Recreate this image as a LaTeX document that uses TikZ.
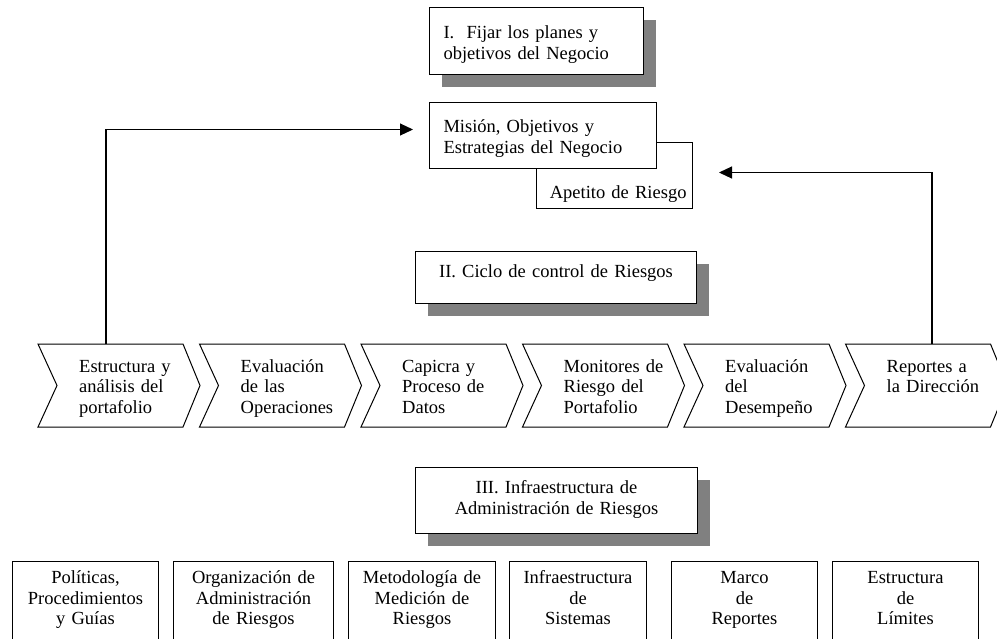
\documentclass[tikz,border=0pt]{standalone}
\usepackage{fontspec}
\setmainfont{Liberation Serif}
\usetikzlibrary{arrows.meta,calc,shadows}

\begin{document}
\begin{tikzpicture}[x=1pt,y=-1pt,
  every node/.style={font=\fontsize{18.5}{20.5}\selectfont, inner sep=0pt, anchor=north west},
  boxframe/.style={draw=black, line width=1pt, fill=white},
  shadebox/.style={boxframe, drop shadow={shadow xshift=12pt, shadow yshift=-12pt, fill=black!50, opacity=1}},
  chevtext/.style={text width=110pt, align=left, text height=28pt, text depth=55pt},
  pillar/.style={boxframe, align=center, text height=22pt, text depth=80pt},
  link/.style={line width=1.1pt, -{Triangle[length=13pt,width=12pt]}},
  chevline/.style={line width=1pt, line join=miter}
]
\useasboundingbox (0,0) rectangle (997,638);
\clip (0,0) rectangle (997,638);

% I. business plans
\node[shadebox, inner xsep=14pt, text width=186pt, align=left,
      text height=31pt, text depth=36pt] (plan) at (429,7)
  {I.\ \ Fijar los planes y\\objetivos del Negocio};

\node[boxframe, inner xsep=6pt, text width=144pt, align=right,
      text height=56pt, text depth=10pt] (appetite) at (536,142)
  {Apetito de Riesgo};
\node[boxframe, inner xsep=14pt, text width=199pt, align=left,
      text height=30pt, text depth=36pt] (mission) at (429,102)
  {Misión, Objetivos y\\Estrategias del Negocio};

% II. control cycle
\node[shadebox, text width=281pt, align=center,
      text height=26pt, text depth=26pt] (cycle) at (415,251)
  {II. Ciclo de control de Riesgos};

\node[chevtext] (c1) at (79,344)    {Estructura y\\análisis del\\portafolio};
\node[chevtext] (c2) at (240.5,344) {Evaluación\\de las\\Operaciones};
\node[chevtext] (c3) at (402,344)   {Capicra y\\Proceso de\\Datos};
\node[chevtext] (c4) at (563.5,344) {Monitores de\\Riesgo del\\Portafolio};
\node[chevtext] (c5) at (725,344)   {Evaluación\\del\\Desempeño};
\node[chevtext] (c6) at (886.5,344) {Reportes a\\la Dirección};

\foreach \c in {c1,c2,c3,c4,c5,c6}
  \draw[chevline] ($(\c.north west)+(-41,0)$) -- ++(145,0) -- ++(17,41.5)
    -- ++(-17,41.5) -- ++(-145,0) -- ++(19,-41.5) -- cycle;

% III. infrastructure
\node[shadebox, text width=282pt, align=center,
      text height=26pt, text depth=40pt] (infra) at (415,467)
  {III. Infraestructura de\\Administración de Riesgos};

\node[pillar, text width=146pt] (p1) at (12,561)  {Políticas,\\Procedimientos\\y Guías};
\node[pillar, text width=160pt] (p2) at (173,561) {Organización de\\Administración\\de Riesgos};
\node[pillar, text width=147pt] (p3) at (348,561) {Metodología de\\Medición de\\Riesgos};
\node[pillar, text width=137pt] (p4) at (509,561) {Infraestructura\\de\\Sistemas};
\node[pillar, text width=146pt] (p5) at (671,561) {Marco\\de\\Reportes};
\node[pillar, text width=146pt] (p6) at (832,561) {Estructura\\de\\Límites};

% feedback connectors
\draw[link, shorten >=16pt] ($(c1.north west)+(27,0)$) |- ($(mission.west)+(0,-6)$);
\draw[link, shorten >=26pt] ($(c6.north west)+(45.5,0)$) |- ($(appetite.east)+(0,-3)$);
\end{tikzpicture}
\end{document}
